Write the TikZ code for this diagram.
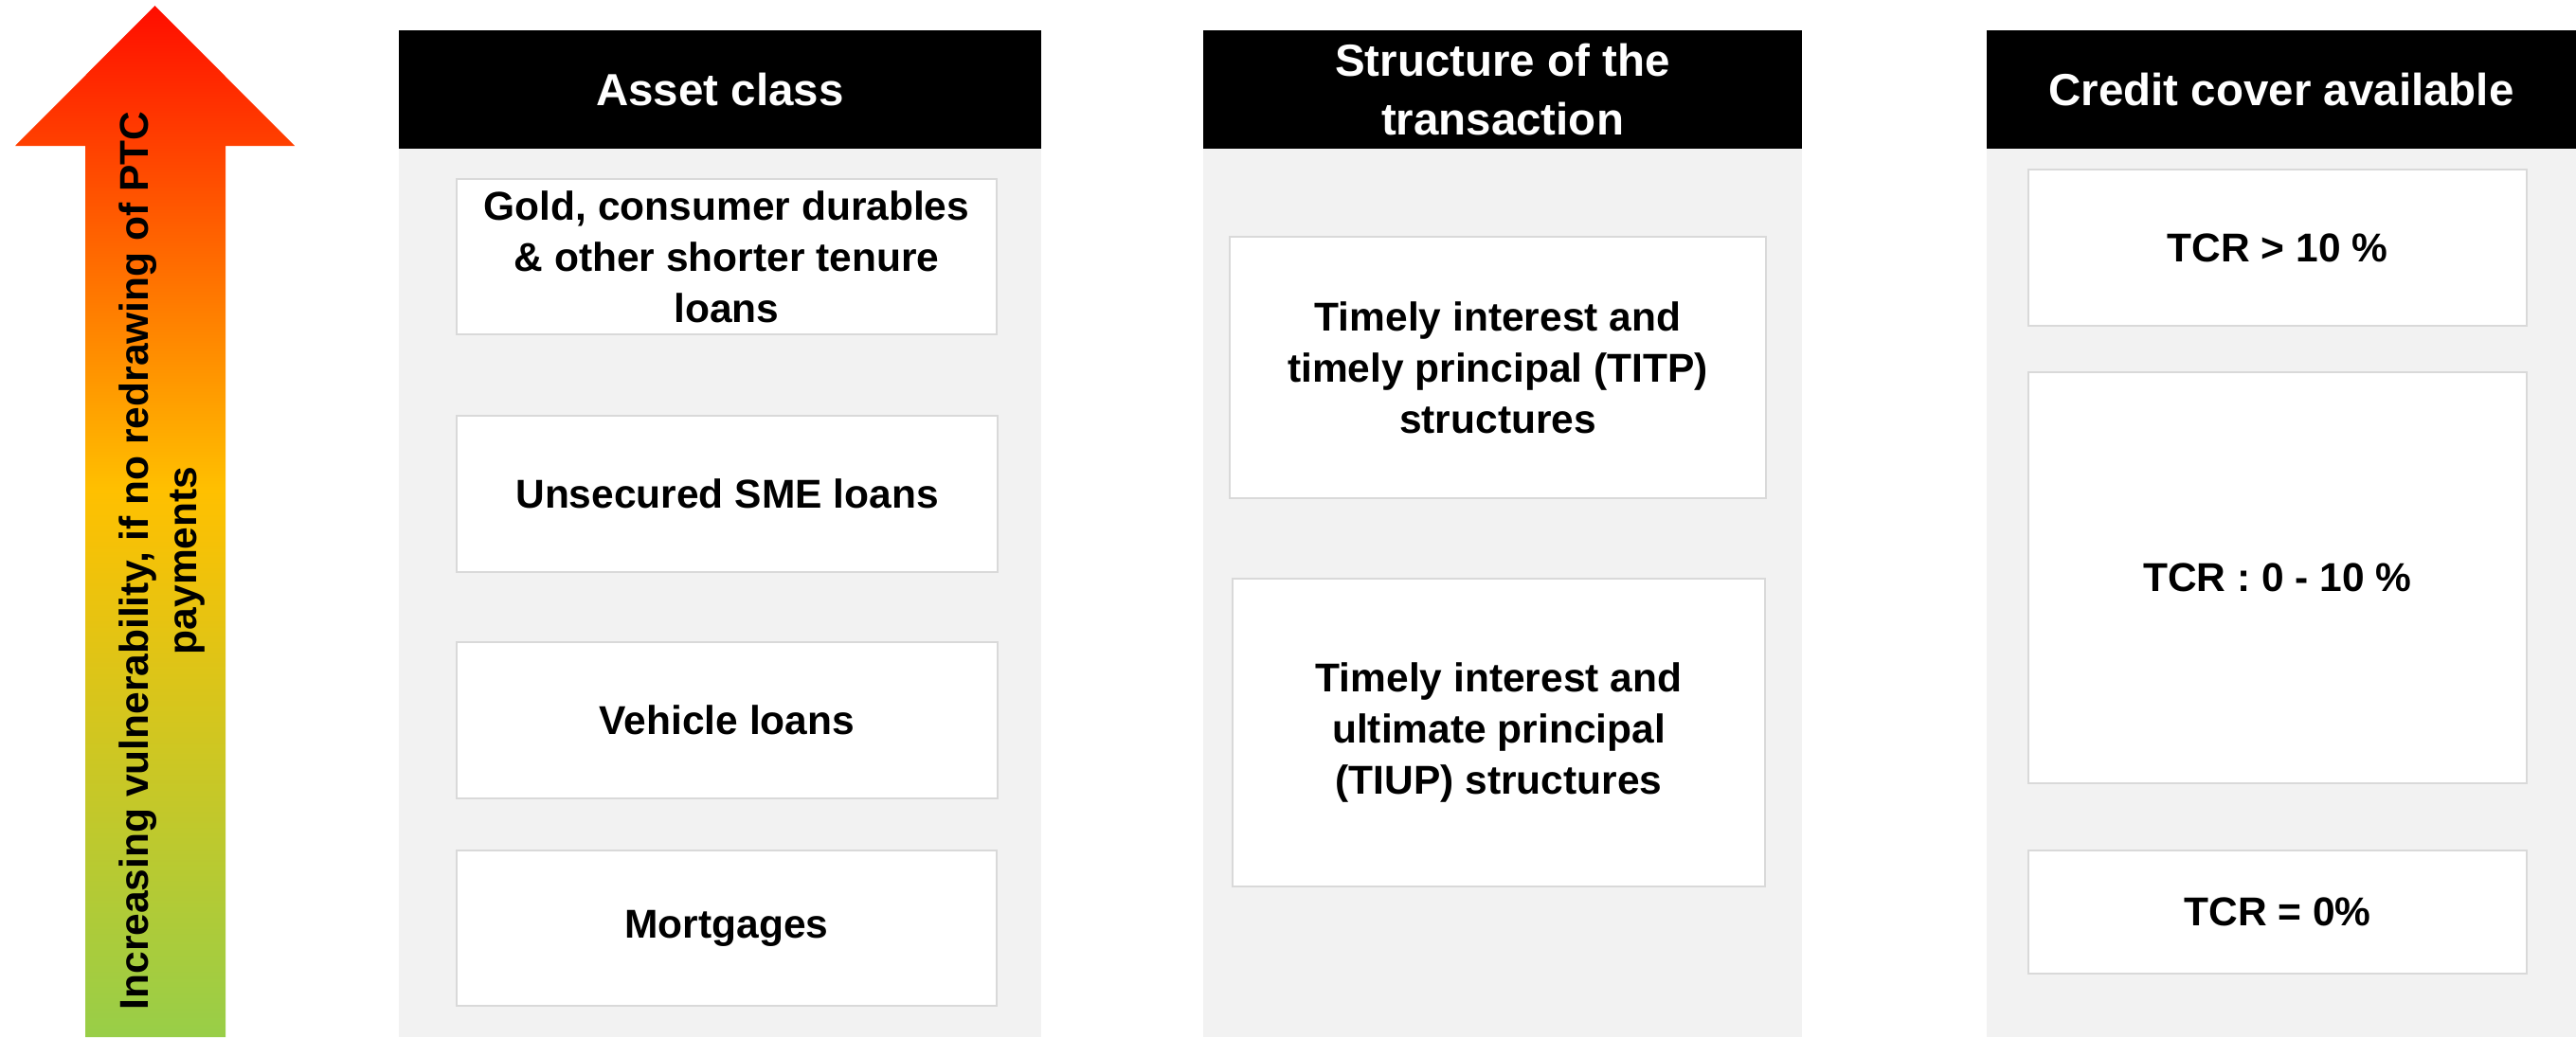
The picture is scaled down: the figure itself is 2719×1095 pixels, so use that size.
\documentclass[tikz,border=0pt]{standalone}
\usepackage{fontspec}
\setmainfont{Liberation Sans}
\definecolor{ared}{HTML}{FF0D00}
\definecolor{ayellow}{HTML}{FFC000}
\definecolor{agreen}{HTML}{98CE48}
\definecolor{panelgray}{HTML}{F2F2F2}
\definecolor{boxline}{HTML}{D9D9D9}
\pgfdeclareverticalshading{arrowgrad}{100bp}{color(0bp)=(agreen); color(25bp)=(agreen); color(51.5bp)=(ayellow); color(75bp)=(ared); color(100bp)=(ared)}
\begin{document}
\begin{tikzpicture}[x=1pt,y=-1pt,
  header/.style={fill=black, text=white, inner sep=0pt, align=center,
    font=\bfseries\fontsize{47.5}{62}\selectfont, minimum height=125pt},
  itembox/.style={fill=white, draw=boxline, line width=2.5pt, inner sep=0pt, align=center,
    font=\bfseries\fontsize{42.5}{54}\selectfont},
  panel/.style={fill=panelgray}]
\useasboundingbox (0,0) rectangle (2719,1095);
\fill[white] (0,0) rectangle (2719,1095);
% gradient arrow
\shade[shading=arrowgrad] (163.5,6) -- (311,154) -- (238,154) -- (238,1095) -- (90,1095) -- (90,154) -- (16,154) -- cycle;
\node[rotate=90, align=center, inner sep=0pt, font=\bfseries\fontsize{42.5}{51}\selectfont] (arrowtext) at (171,592)
  {Increasing vulnerability, if no redrawing of PTC\\payments};
% panels
\fill[panel] (421,157) rectangle (1099,1095);
\fill[panel] (1270,157) rectangle (1902,1095);
\fill[panel] (2097,157) rectangle (2719,1095);
% headers
\node[header, minimum width=678pt] (h1) at (760,94.5) {Asset class};
\node[header, minimum width=632pt] (h2) at (1586,94.5) {Structure of the\\transaction};
\node[header, minimum width=622pt] (h3) at (2408,94.5) {Credit cover available};
% asset class boxes
\node[itembox, minimum width=570pt, minimum height=164pt] (g1) at (767,271) {Gold, consumer durables\\\& other shorter tenure\\loans};
\node[itembox, minimum width=571pt, minimum height=165pt] (g2) at (767.5,521.5) {Unsecured SME loans};
\node[itembox, minimum width=571pt, minimum height=165pt] (g3) at (767.5,760.5) {Vehicle loans};
\node[itembox, minimum width=570pt, minimum height=164pt] (g4) at (767,980) {Mortgages};
% structure boxes
\node[itembox, minimum width=566pt, minimum height=276pt] (s1) at (1581,388) {Timely interest and\\timely principal (TITP)\\structures};
\node[itembox, minimum width=562pt, minimum height=325pt] (s2) at (1582,773.5) {Timely interest and\\ultimate principal\\(TIUP) structures};
% credit cover boxes
\node[itembox, minimum width=526pt, minimum height=165pt] (c1) at (2404,261.5) {TCR > 10 \%};
\node[itembox, minimum width=526pt, minimum height=434pt] (c2) at (2404,610) {TCR : 0 - 10 \%};
\node[itembox, minimum width=526pt, minimum height=130pt] (c3) at (2404,963) {TCR = 0\%};
\end{tikzpicture}
\end{document}
